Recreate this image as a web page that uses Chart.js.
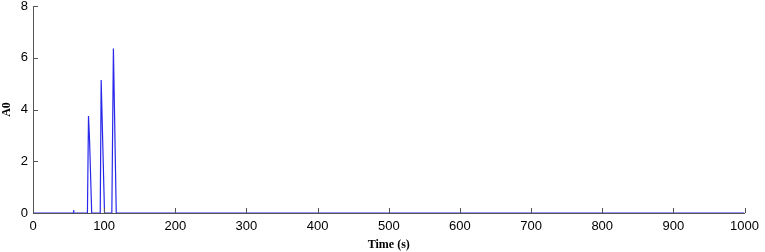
<!DOCTYPE html>
<html>
<head>
<meta charset="utf-8">
<script src="https://cdn.jsdelivr.net/npm/chart.js@4"></script>
<style>
  html, body { margin: 0; padding: 0; background: #fff; }
  #wrap { width: 765px; height: 252px; }
</style>
</head>
<body>
<div id="wrap"><canvas id="chart" width="765" height="252"></canvas></div>
<script>
// time (s) and A0 values
const times = [0, 56.5, 57, 57.5, 76.5, 78, 79.5, 82.5, 94.5, 95.8, 100.5, 110.8, 113, 117, 1000];
const a0 = [0, 0, 0.12, 0, 0, 3.75, 2.8, 0, 0, 5.14, 0, 0, 6.36, 0, 0];
const xTicks = [0, 100, 200, 300, 400, 500, 600, 700, 800, 900, 1000];
const yTicks = [0, 2, 4, 6, 8];

const axisColor = '#555';

// matlab style ticks pointing into the plot
const inwardTicks = {
  id: 'inwardTicks',
  afterDraw(chart) {
    const { ctx, chartArea: a, scales: { x, y } } = chart;
    ctx.save();
    ctx.strokeStyle = axisColor;
    ctx.lineWidth = 1;
    ctx.beginPath();
    xTicks.forEach(v => {
      const px = Math.round(x.getPixelForValue(v)) + 0.5;
      ctx.moveTo(px, a.bottom);
      ctx.lineTo(px, a.bottom - 5);
    });
    yTicks.forEach(v => {
      const py = Math.round(y.getPixelForValue(v)) + 0.5;
      ctx.moveTo(a.left, py);
      ctx.lineTo(a.left + 5, py);
    });
    ctx.stroke();
    ctx.restore();
  }
};

new Chart(document.getElementById('chart'), {
  type: 'line',
  data: {
    datasets: [{
      data: times.map((t, i) => ({ x: t, y: a0[i] })),
      borderColor: 'rgb(40, 40, 235)',
      borderWidth: 1.2,
      pointRadius: 0,
      tension: 0,
      fill: false
    }]
  },
  options: {
    responsive: false,
    animation: false,
    layout: { padding: { top: 6, right: 18, left: 0, bottom: 0 } },
    plugins: { legend: { display: false }, tooltip: { enabled: false } },
    scales: {
      x: {
        type: 'linear',
        min: 0,
        max: 1000,
        afterBuildTicks: s => { s.ticks = xTicks.map(v => ({ value: v })); },
        afterFit: s => { s.height = 39; },
        grid: { display: true, drawOnChartArea: false, drawTicks: false },
        border: { display: true, color: axisColor, width: 1 },
        ticks: {
          color: '#000', padding: 6,
          font: { family: 'Liberation Sans, Arial', size: 13 },
          callback: v => String(v)
        },
        title: {
          display: true,
          text: 'Time (s)',
          color: '#000',
          padding: { top: 3, bottom: 0 },
          font: { family: 'Liberation Serif, Times New Roman', size: 12, weight: 'bold' }
        }
      },
      y: {
        min: 0,
        max: 8,
        afterBuildTicks: s => { s.ticks = yTicks.map(v => ({ value: v })); },
        afterFit: s => { s.width = 33; s.paddingTop = 0; },
        grid: { display: true, drawOnChartArea: false, drawTicks: false },
        border: { display: true, color: axisColor, width: 1 },
        ticks: { color: '#000', padding: 5, font: { family: 'Liberation Sans, Arial', size: 13 } },
        title: {
          display: true,
          text: 'A0',
          color: '#000',
          padding: { top: 0, bottom: 0 },
          font: { family: 'Liberation Serif, Times New Roman', size: 12, weight: 'bold' }
        }
      }
    }
  },
  plugins: [inwardTicks]
});
</script>
</body>
</html>
